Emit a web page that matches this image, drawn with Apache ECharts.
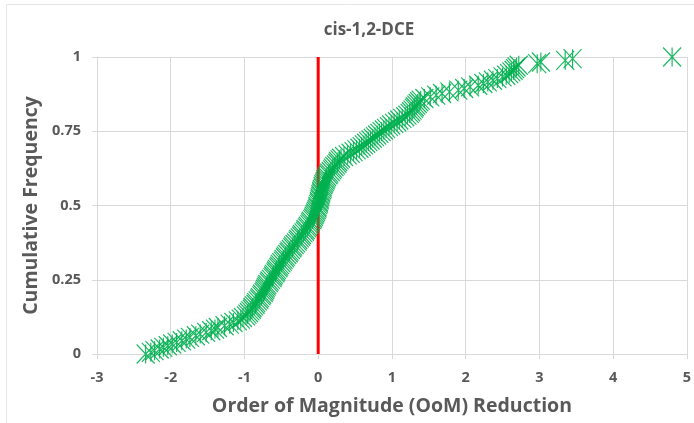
<!DOCTYPE html>
<html>
<head>
<meta charset="utf-8">
<title>cis-1,2-DCE</title>
<script src="https://cdn.jsdelivr.net/npm/echarts@6/dist/echarts.min.js"></script>
<style>
  html, body { margin: 0; padding: 0; background: #ffffff; }
  #chart { width: 694px; height: 423px; }
</style>
</head>
<body>
<div id="chart"></div>
<script>
// Order-of-magnitude reduction for each well, sorted ascending
var oomReduction = [
  -2.34, -2.27, -2.22, -2.15, -2.10, -2.04, -1.98, -1.92, -1.85, -1.79,
  -1.74, -1.66, -1.60, -1.52, -1.45, -1.40, -1.36, -1.27, -1.20, -1.15,
  -1.09, -1.05, -1.02, -0.98, -0.96, -0.94, -0.92, -0.90, -0.89, -0.87,
  -0.85, -0.84, -0.82, -0.80, -0.79, -0.77, -0.76, -0.74, -0.73, -0.72,
  -0.71, -0.70, -0.69, -0.67, -0.66, -0.64, -0.62, -0.61, -0.60, -0.58,
  -0.57, -0.56, -0.54, -0.53, -0.52, -0.50, -0.48, -0.47, -0.45, -0.44,
  -0.42, -0.40, -0.39, -0.37, -0.35, -0.34, -0.32, -0.30, -0.28, -0.27,
  -0.25, -0.23, -0.22, -0.20, -0.18, -0.17, -0.15, -0.14, -0.12, -0.11,
  -0.10, -0.08, -0.07, -0.06, -0.05, -0.04, -0.03, -0.02, -0.01, -0.01,
   0.00,  0.01,  0.01,  0.02,  0.02,  0.03,  0.03,  0.04,  0.04,  0.05,
   0.06,  0.06,  0.07,  0.08,  0.09,  0.10,  0.11,  0.12,  0.14,  0.15,
   0.17,  0.19,  0.20,  0.22,  0.24,  0.26,  0.27,  0.29,  0.31,  0.35,
   0.40,  0.44,  0.48,  0.52,  0.56,  0.59,  0.62,  0.65,  0.68,  0.71,
   0.74,  0.77,  0.80,  0.83,  0.86,  0.89,  0.92,  0.96,  0.99,  1.03,
   1.07,  1.10,  1.14,  1.18,  1.21,  1.24,  1.26,  1.28,  1.30,  1.31,
   1.33,  1.35,  1.37,  1.39,  1.44,  1.52,  1.60,  1.68,  1.78,  1.90,
   1.98,  2.06,  2.17,  2.24,  2.30,  2.37,  2.43,  2.50,  2.55,  2.59,
   2.62,  2.65,  2.67,  2.69,  2.72,  2.97,  3.02,  3.35,  3.45,  4.80
];

// Reference line at zero reduction
var zeroLineX = [0, 0];
var zeroLineY = [0, 1];

// Axis ticks
var xTicks = { min: -3, max: 5, step: 1 };
var yTicks = { min: 0, max: 1, step: 0.25 };

// Cumulative frequency: rank position within the sorted sample
var n = oomReduction.length;
var cdfPoints = oomReduction.map(function (x, i) { return [x, i / (n - 1)]; });
var zeroLine = zeroLineX.map(function (x, i) { return [x, zeroLineY[i]]; });

var textColor = '#595959';
var gridColor = '#d9d9d9';
var font = 'Open Sans';

// Excel-style asterisk marker: X plus a vertical bar
var starPath = 'path://M0,0L18,19M18,0L0,19M9,0L9,19';

var chart = echarts.init(document.getElementById('chart'), null, { renderer: 'canvas' });
chart.setOption({
  animation: false,
  backgroundColor: '#ffffff',
  title: {
    text: 'cis-1,2-DCE',
    left: 364,
    top: 17,
    textAlign: 'center',
    textStyle: { color: textColor, fontSize: 17, fontWeight: 'bold', fontFamily: font }
  },
  grid: { left: 97, right: 7, top: 57, bottom: 69, containLabel: false },
  xAxis: {
    type: 'value',
    min: xTicks.min, max: xTicks.max, interval: xTicks.step,
    name: 'Order of Magnitude (OoM) Reduction',
    nameLocation: 'middle',
    nameGap: 42,
    nameTextStyle: { color: textColor, fontSize: 19.5, fontWeight: 'bold', fontFamily: font },
    axisLine: { show: true, onZero: false, lineStyle: { color: gridColor, width: 1 } },
    axisTick: { show: true, length: 5, lineStyle: { color: gridColor } },
    axisLabel: { color: textColor, fontSize: 14.5, fontWeight: 'bold', fontFamily: font, margin: 16 },
    splitLine: { show: true, lineStyle: { color: gridColor, width: 1 } }
  },
  yAxis: {
    type: 'value',
    min: yTicks.min, max: yTicks.max, interval: yTicks.step,
    name: 'Cumulative Frequency',
    nameLocation: 'middle',
    nameGap: 52,
    nameRotate: 90,
    nameTextStyle: { color: textColor, fontSize: 19.5, fontWeight: 'bold', fontFamily: font },
    axisLine: { show: true, onZero: false, lineStyle: { color: gridColor, width: 1 } },
    axisTick: { show: true, length: 5, lineStyle: { color: gridColor } },
    axisLabel: { color: textColor, fontSize: 14.5, fontWeight: 'bold', fontFamily: font, margin: 16 },
    splitLine: { show: true, lineStyle: { color: gridColor, width: 1 } }
  },
  series: [
    {
      name: 'Zero',
      type: 'line',
      data: zeroLine,
      showSymbol: false,
      lineStyle: { color: '#ff0000', width: 3 },
      z: 3
    },
    {
      name: 'cis-1,2-DCE',
      type: 'scatter',
      data: cdfPoints,
      symbol: starPath,
      symbolSize: [18, 19],
      itemStyle: { color: 'rgba(0,0,0,0)', borderColor: '#00b050', borderWidth: 1.2, opacity: 0.9 },
      z: 4
    }
  ],
  graphic: [
    {
      type: 'rect',
      shape: { x: 6.5, y: 4.5, width: 700, height: 430 },
      style: { fill: 'none', stroke: '#e6e6e6', lineWidth: 1 },
      silent: true,
      z: -1
    }
  ]
});
</script>
</body>
</html>
